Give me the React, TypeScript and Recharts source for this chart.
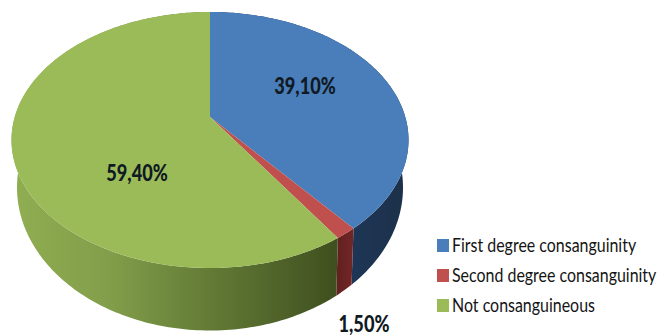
import React from 'react';
import { PieChart, Pie, Legend } from 'recharts';

const categories = ['First degree consanguinity', 'Second degree consanguinity', 'Not consanguineous'];
const shares = [39.1, 1.5, 59.4];
const shareLabels = ['39,10%', '1,50%', '59,40%'];
const faceColors = ['#4a7ebb', '#c0504d', '#9bbb59'];
const wallFills = ['url(#wall-blue)', 'url(#wall-red)', 'url(#wall-green)'];

const data = categories.map((name, i) => ({ name, value: shares[i] }));

const WIDTH = 659;
const HEIGHT = 335;
const FONT = 'Lato, Roboto, sans-serif';

// Perspective rims of the disc: each rim is an ellipse seen through a tilt k
const TOP_RIM = { cx: 210, cy: 140, rx: 198.5, ry: 128, k: 0.18 };
const BOTTOM_RIM = { cx: 210, cy: 187.5, rx: 193, ry: 143, k: 0.2 };

// Where each percentage is centred
const LABEL_SPOTS = [
  { x: 305, y: 85 },
  { x: 364, y: 323 },
  { x: 137, y: 172 },
];

type Rim = typeof TOP_RIM;

const project = (rim: Rim, deg: number, radius = 1) => {
  const phi = ((90 - deg) * Math.PI) / 180;
  const X = Math.sin(phi) * radius;
  const Y = -Math.cos(phi) * radius;
  const w = 1 - rim.k * Y;
  const squeeze = 1 - rim.k * rim.k;
  return {
    x: rim.cx + (rim.rx * Math.sqrt(squeeze) * X) / w,
    y: rim.cy - rim.ry * rim.k + (rim.ry * squeeze * Y) / w,
  };
};

const arcPoints = (rim: Rim, from: number, to: number) => {
  const steps = Math.max(2, Math.ceil(Math.abs(to - from)));
  const pts: { x: number; y: number }[] = [];
  for (let i = 0; i <= steps; i++) {
    pts.push(project(rim, from + ((to - from) * i) / steps));
  }
  return pts;
};

const toPath = (pts: { x: number; y: number }[]) =>
  pts.map((p, i) => `${i ? 'L' : 'M'}${p.x.toFixed(2)} ${p.y.toFixed(2)}`).join(' ') + ' Z';

const WallSlice = (props: any) => {
  const top = arcPoints(TOP_RIM, props.startAngle, props.endAngle);
  const bottom = arcPoints(BOTTOM_RIM, props.startAngle, props.endAngle).reverse();
  return <path d={toPath([...top, ...bottom])} fill={props.fill} />;
};

const FaceSlice = (props: any) => {
  const apex = project(TOP_RIM, 0, 0);
  const rim = arcPoints(TOP_RIM, props.startAngle, props.endAngle);
  return <path d={toPath([apex, ...rim])} fill={props.fill} />;
};

// Condensed look: the installed fonts are too wide, so squeeze horizontally
const renderShareLabel = ({ index }: any) => (
  <text
    transform={`translate(${LABEL_SPOTS[index].x} ${LABEL_SPOTS[index].y}) scale(0.79 1)`}
    textAnchor="middle"
    dominantBaseline="central"
    fontFamily={FONT}
    fontWeight={900}
    fontSize={23}
    fill="#101a22"
  >
    {shareLabels[index]}
  </text>
);

const renderLegend = () => (
  <svg width={222} height={92} style={{ display: 'block' }}>
    {categories.map((name, i) => (
      <g key={name} transform={`translate(0 ${9 + i * 30})`}>
        <rect width={12} height={13} fill={faceColors[i]} />
        <text
          transform="translate(15 13) scale(0.84 1)"
          fontFamily={FONT}
          fontSize={19}
          fill="#141414"
        >
          {name}
        </text>
      </g>
    ))}
  </svg>
);

export default function App() {
  return (
    <div style={{ position: 'absolute', left: 0, top: 0, background: '#fff' }}>
      <PieChart width={WIDTH} height={HEIGHT} margin={{ top: 0, right: 0, bottom: 0, left: 0 }}>
        <defs>
          <linearGradient id="wall-green" gradientUnits="userSpaceOnUse" x1={11} y1={0} x2={340} y2={0}>
            <stop offset="0" stopColor="#90ae52" />
            <stop offset="0.3" stopColor="#829e4a" />
            <stop offset="0.6" stopColor="#637b36" />
            <stop offset="1" stopColor="#3e4e1e" />
          </linearGradient>
          <linearGradient id="wall-red" gradientUnits="userSpaceOnUse" x1={334} y1={0} x2={352} y2={0}>
            <stop offset="0" stopColor="#5f1f1e" />
            <stop offset="1" stopColor="#702626" />
          </linearGradient>
          <linearGradient id="wall-blue" gradientUnits="userSpaceOnUse" x1={350} y1={0} x2={408} y2={0}>
            <stop offset="0" stopColor="#1e3657" />
            <stop offset="1" stopColor="#1c3048" />
          </linearGradient>
        </defs>
        <Pie
          data={data.map((d, i) => ({ ...d, fill: wallFills[i] }))}
          dataKey="value"
          cx={210}
          cy={117}
          outerRadius={198}
          startAngle={90}
          endAngle={-270}
          stroke="none"
          legendType="none"
          shape={WallSlice}
          isAnimationActive={false}
        />
        <Pie
          data={data.map((d, i) => ({ ...d, fill: faceColors[i] }))}
          dataKey="value"
          cx={210}
          cy={117}
          outerRadius={198}
          startAngle={90}
          endAngle={-270}
          stroke="none"
          shape={FaceSlice}
          label={renderShareLabel}
          labelLine={false}
          isAnimationActive={false}
        />
        <Legend
          layout="vertical"
          content={renderLegend}
          wrapperStyle={{ left: 437, top: 230, width: 222, bottom: 'auto', margin: 0 }}
        />
      </PieChart>
    </div>
  );
}
